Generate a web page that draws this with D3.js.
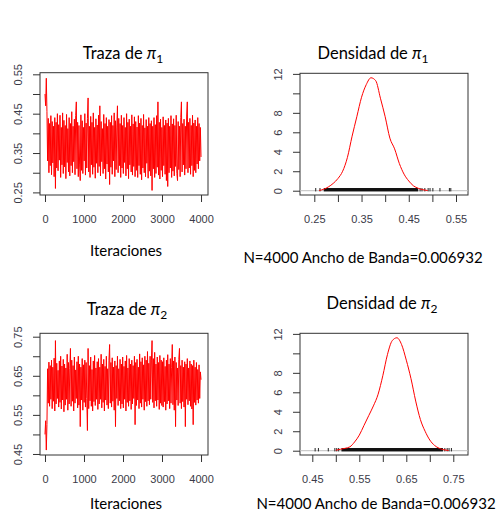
<!DOCTYPE html>
<html>
<head>
<meta charset="utf-8">
<script src="https://cdn.jsdelivr.net/npm/d3@7"></script>
<style>
  body { margin: 0; background: #fff; }
  svg { display: block; }
</style>
</head>
<body>
<script>
// Cadenas MCMC (valores leidos a ojo del grafico, submuestreadas)
var trace1 = [
  .500, .470, .540, .455, .330, .438, .300, .425, .318, .445, .295, .430, .325, .418, .290, .440, .260, .428, .312, .450,
  .305, .422, .332, .446, .288, .415, .320, .452, .298, .433, .315, .420, .285, .448, .326, .412, .302, .440, .292, .425,
  .318, .455, .300, .418, .328, .436, .295, .445, .480, .310, .428, .290, .420, .322, .280, .447, .306, .432, .298, .415,
  .330, .450, .294, .426, .312, .438, .490, .302, .418, .288, .443, .320, .428, .296, .452, .314, .415, .286, .437, .324,
  .421, .300, .446, .316, .470, .292, .430, .328, .412, .298, .448, .310, .425, .284, .440, .322, .418, .302, .435, .270,
  .428, .314, .445, .296, .420, .330, .452, .290, .432, .308, .416, .470, .300, .438, .318, .425, .288, .446, .312, .420,
  .298, .440, .326, .415, .292, .450, .310, .428, .285, .436, .320, .418, .302, .447, .294, .424, .316, .442, .290, .430,
  .306, .416, .288, .445, .318, .426, .296, .438, .282, .420, .312, .448, .300, .414, .290, .435, .324, .418, .286, .440,
  .304, .425, .292, .432, .255, .418, .310, .440, .288, .422, .298, .445, .314, .480, .294, .428, .284, .436, .306, .415,
  .290, .442, .318, .420, .296, .434, .280, .426, .265, .438, .300, .418, .312, .445, .288, .424, .304, .437, .292, .420,
  .316, .446, .298, .280, .430, .308, .418, .290, .440, .480, .302, .425, .320, .436, .294, .418, .310, .444, .480, .300,
  .428, .312, .438, .296, .420, .318, .446, .290, .426, .306, .434, .300, .418, .322, .440, .310, .425, .330, .415, .340
];
var trace2 = [
  .500, .535, .460, .525, .668, .580, .685, .572, .676, .590, .690, .566, .672, .585, .695, .560, .740, .578, .682, .592,
  .664, .570, .688, .582, .700, .565, .675, .588, .692, .558, .680, .575, .670, .590, .705, .562, .684, .578, .668, .720,
  .572, .690, .585, .676, .560, .698, .580, .665, .592, .686, .568, .700, .575, .680, .520, .672, .588, .694, .562, .678,
  .582, .690, .570, .684, .592, .510, .720, .566, .676, .586, .698, .572, .666, .560, .688, .584, .702, .574, .670, .590,
  .686, .564, .694, .578, .672, .590, .705, .568, .680, .582, .692, .560, .674, .588, .700, .575, .668, .566, .690, .730,
  .580, .684, .570, .696, .585, .672, .562, .688, .520, .676, .592, .700, .574, .668, .586, .692, .566, .680, .578, .698,
  .568, .674, .590, .688, .560, .702, .582, .670, .572, .694, .586, .680, .564, .690, .578, .676, .592, .700, .525, .684,
  .574, .692, .588, .672, .566, .706, .580, .686, .570, .696, .590, .678, .562, .700, .584, .690, .572, .712, .586, .682,
  .576, .700, .590, .688, .740, .582, .694, .568, .710, .586, .680, .572, .698, .588, .684, .564, .702, .580, .690, .574,
  .686, .570, .696, .584, .674, .562, .690, .578, .704, .586, .680, .566, .694, .580, .672, .730, .576, .688, .562, .698,
  .520, .684, .588, .670, .574, .692, .720, .580, .676, .566, .690, .584, .672, .570, .686, .520, .680, .590, .694, .576,
  .670, .586, .688, .572, .680, .565, .676, .525, .690, .582, .672, .575, .684, .588, .666, .580, .678, .592, .660, .640
];
var nIter = 4000;

// Densidades estimadas (x, densidad)
var dens1X = [0.26, 0.27, 0.28, 0.29, 0.30, 0.31, 0.32, 0.33, 0.34, 0.35, 0.36, 0.37, 0.38, 0.39, 0.40, 0.41, 0.42, 0.43, 0.44, 0.45, 0.46, 0.47, 0.48, 0.49];
var dens1Y = [0.03, 0.15, 0.40, 0.75, 1.25, 2.0, 3.4, 5.6, 7.6, 9.6, 10.9, 11.6, 11.3, 9.5, 7.6, 5.4, 4.3, 2.8, 1.7, 1.0, 0.5, 0.25, 0.1, 0.02];
var dens2X = [0.50, 0.51, 0.52, 0.53, 0.54, 0.55, 0.56, 0.57, 0.58, 0.59, 0.60, 0.61, 0.62, 0.63, 0.64, 0.65, 0.66, 0.67, 0.68, 0.69, 0.70, 0.71, 0.72, 0.73, 0.74];
var dens2Y = [0.05, 0.15, 0.25, 0.40, 0.9, 1.6, 2.6, 3.6, 4.6, 5.8, 7.7, 9.9, 11.3, 11.6, 10.9, 9.3, 7.4, 5.1, 3.2, 2.0, 1.1, 0.55, 0.25, 0.1, 0.02];

// rug: tramo denso [desde, hasta] y muestras sueltas en las colas
var rug1Core = [0.270, 0.470];
var rug1Tails = [0.253, 0.262, 0.474, 0.478, 0.484, 0.491, 0.495, 0.501, 0.516, 0.536, 0.539];
var rug2Core = [0.512, 0.728];
var rug2Tails = [0.456, 0.463, 0.484, 0.498, 0.502, 0.506, 0.732, 0.737, 0.741, 0.746];

// Ticks y etiquetas
var iterTicks = [0, 1000, 2000, 3000, 4000];
var trace1Ticks = [0.25, 0.30, 0.35, 0.40, 0.45, 0.50, 0.55];
var trace1Labels = [0.25, 0.35, 0.45, 0.55];
var trace2Ticks = [0.45, 0.50, 0.55, 0.60, 0.65, 0.70, 0.75];
var trace2Labels = [0.45, 0.55, 0.65, 0.75];
var densYTicks = [0, 2, 4, 6, 8, 10, 12];
var densYLabels = [0, 2, 4, 6, 8, 12];
var dens1XTicks = [0.25, 0.30, 0.35, 0.40, 0.45, 0.50, 0.55];
var dens1XLabels = [0.25, 0.35, 0.45, 0.55];
var dens2XTicks = [0.45, 0.50, 0.55, 0.60, 0.65, 0.70, 0.75];
var dens2XLabels = [0.45, 0.55, 0.65, 0.75];

var bandText = "N=4000 Ancho de Banda=0.006932";

var width = 498, height = 513;
var svg = d3.select("body").append("svg")
    .attr("width", width)
    .attr("height", height);

var tickFont = "'Liberation Sans', Arial, sans-serif";
var labelFont = "Lato, 'Open Sans', sans-serif";
var inkColor = "#333";
var tickTextColor = "#3a3a48";

// draws box + axes, returns scales
function drawFrame(box, xDomain, yDomain, xTicks, xLabels, yTicks, yLabels, xFmt, yFmt) {
    var x = d3.scaleLinear().domain(xDomain).range([box.x, box.x + box.w]);
    var y = d3.scaleLinear().domain(yDomain).range([box.y + box.h, box.y]);

    var xAxis = d3.axisBottom(x)
        .tickValues(xTicks)
        .tickSize(7)
        .tickFormat(function (d) { return xLabels.indexOf(d) >= 0 ? xFmt(d) : ""; });
    var gx = svg.append("g")
        .attr("transform", "translate(0," + (box.y + box.h) + ")")
        .call(xAxis);
    gx.select(".domain").remove();
    gx.selectAll("line").attr("stroke", inkColor);
    gx.selectAll("text")
        .attr("y", 28).attr("dy", 0)
        .style("font-family", tickFont).style("font-size", "11px")
        .attr("fill", tickTextColor);

    var yAxis = d3.axisLeft(y)
        .tickValues(yTicks)
        .tickSize(7)
        .tickFormat(function (d) { return yLabels.indexOf(d) >= 0 ? yFmt(d) : ""; });
    var gy = svg.append("g")
        .attr("transform", "translate(" + box.x + ",0)")
        .call(yAxis);
    gy.select(".domain").remove();
    gy.selectAll("line").attr("stroke", inkColor);
    gy.selectAll("text")
        .attr("transform", "rotate(-90)")
        .attr("x", 0).attr("y", -18).attr("dy", 0)
        .attr("text-anchor", "middle")
        .style("font-family", tickFont).style("font-size", "11px")
        .attr("fill", tickTextColor);

    svg.append("rect")
        .attr("x", box.x).attr("y", box.y)
        .attr("width", box.w).attr("height", box.h)
        .attr("fill", "none")
        .attr("stroke", inkColor)
        .attr("stroke-width", 1);

    return { x: x, y: y };
}

function title(cx, cy, word, sub) {
    var t = svg.append("text")
        .attr("x", cx).attr("y", cy)
        .attr("text-anchor", "middle")
        .style("font-family", labelFont).style("font-size", "16.5px")
        .attr("fill", "#000");
    t.append("tspan").text(word + " ");
    t.append("tspan").text("\u03c0").style("font-style", "italic");
    t.append("tspan").text(sub).attr("dy", 4).style("font-size", "12px");
}

function label(cx, cy, txt) {
    svg.append("text")
        .attr("x", cx).attr("y", cy)
        .attr("text-anchor", "middle")
        .style("font-family", labelFont).style("font-size", "15px")
        .attr("fill", "#000")
        .text(txt);
}

var fmt2 = d3.format(".2f");
var fmtInt = d3.format("d");

function drawTrace(box, values, yDomain, yTicks, yLabels) {
    var s = drawFrame(box, [-128, 4179], yDomain, iterTicks, iterTicks, yTicks, yLabels, fmtInt, fmt2);
    var line = d3.line()
        .x(function (d, i) { return s.x(i * nIter / (values.length - 1)); })
        .y(function (d) { return s.y(d); });
    svg.append("path")
        .datum(values)
        .attr("d", line)
        .attr("fill", "none")
        .attr("stroke", "#ff0000")
        .attr("stroke-width", 1);
}

function drawDensity(box, xDomain, xs, ys, rugCore, rugTails, xTicks, xLabels) {
    var s = drawFrame(box, xDomain, [-0.44, 12.06], xTicks, xLabels, densYTicks, densYLabels, fmt2, fmtInt);
    var y0 = s.y(0);
    // linea del cero
    svg.append("line")
        .attr("x1", box.x).attr("x2", box.x + box.w)
        .attr("y1", y0).attr("y2", y0)
        .attr("stroke", "#bebebe").attr("stroke-width", 1);
    // rug de las muestras
    svg.append("rect")
        .attr("x", s.x(rugCore[0]))
        .attr("width", s.x(rugCore[1]) - s.x(rugCore[0]))
        .attr("y", y0 - 2.7)
        .attr("height", 3.4)
        .attr("fill", "#111");
    svg.append("g").selectAll("line")
        .data(rugTails)
        .enter().append("line")
        .attr("x1", function (d) { return s.x(d); })
        .attr("x2", function (d) { return s.x(d); })
        .attr("y1", y0 + 0.7)
        .attr("y2", y0 - 2.7)
        .attr("stroke", "#222")
        .attr("stroke-width", 1);
    var pts = xs.map(function (v, i) { return [v, ys[i]]; });
    var line = d3.line()
        .x(function (d) { return s.x(d[0]); })
        .y(function (d) { return s.y(d[1]); })
        .curve(d3.curveMonotoneX);
    svg.append("path")
        .datum(pts)
        .attr("d", line)
        .attr("fill", "none")
        .attr("stroke", "#ff0000")
        .attr("stroke-width", 1);
}

// fila 1
drawTrace({ x: 40, y: 72.7, w: 168, h: 122.3 }, trace1, [0.2434, 0.5541], trace1Ticks, trace1Labels);
drawDensity({ x: 300, y: 73.3, w: 168, h: 121.7 }, [0.2197, 0.5754], dens1X, dens1Y, rug1Core, rug1Tails, dens1XTicks, dens1XLabels);
title(123, 59, "Traza de", "1");
title(373, 59, "Densidad de", "1");
label(126, 256, "Iteraciones");
label(363, 263, bandText);

// fila 2
drawTrace({ x: 40, y: 333.3, w: 168, h: 121.7 }, trace2, [0.4474, 0.7587], trace2Ticks, trace2Labels);
drawDensity({ x: 300, y: 333.3, w: 168, h: 121.7 }, [0.4238, 0.7813], dens2X, dens2Y, rug2Core, rug2Tails, dens2XTicks, dens2XLabels);
title(127, 315, "Traza de", "2");
title(382, 309, "Densidad de", "2");
label(126, 509, "Iteraciones");
label(376, 509, bandText);
</script>
</body>
</html>
